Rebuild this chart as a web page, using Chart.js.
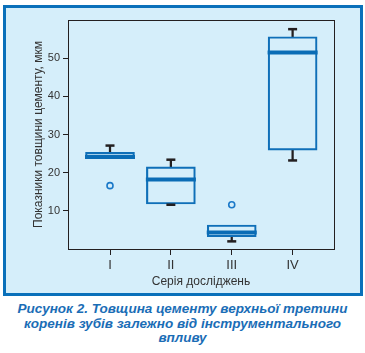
<!DOCTYPE html>
<html lang="uk">
<head>
  <meta charset="UTF-8" />
  <title>Товщина цементу</title>
  <script src="https://cdn.jsdelivr.net/npm/chart.js"></script>
  <style>
    body {
      margin: 0;
      background: #fff;
      font-family: 'Liberation Sans', Arial, sans-serif;
    }

    .panel {
      position: absolute;
      left: 3px;
      top: 5px;
      width: 354px;
      height: 285px;
      border: 3px solid #0a70ba;
      background: #d5eefa;
    }

    #chart {
      position: absolute;
      left: 0;
      top: 0;
    }

    .caption {
      position: absolute;
      left: 0;
      top: 302px;
      width: 365px;
      text-align: center;
      color: #1a6db6;
      font: italic bold 13.5px/14.6px 'Liberation Sans', Arial, sans-serif;
    }
  </style>
</head>
<body>
  <div class="panel"></div>
  <canvas id="chart" width="365" height="296"></canvas>
  <div class="caption">
    Рисунок 2. Товщина цементу верхньої третини<br>
    коренів зубів залежно від інструментального<br>
    впливу
  </div>

  <script>
    const categories = ["I", "II", "III", "IV"];
    const q1 = [23.7, 11.8, 3.2, 25.9];
    const median = [24.1, 18.2, 4.3, 51.5];
    const q3 = [25.3, 21.5, 6.3, 55.6];
    const whiskerLow = [null, 11.6, 2.0, 23.2];
    const whiskerHigh = [27.1, 23.4, null, 57.6];
    const outliers = [[0, 16.6], [2, 11.6]];
    const yTicks = [10, 20, 30, 40, 50];

    const BOX = "#0f6fb8";
    const DARK = "#231f20";

    // рамка навколо області графіка
    const frame = {
      id: "frame",
      beforeDatasetsDraw(chart) {
        const a = chart.chartArea;
        const ctx = chart.ctx;
        ctx.save();
        ctx.strokeStyle = DARK;
        ctx.lineWidth = 1;
        ctx.strokeRect(a.left + 0.5, a.top + 0.5, a.right - a.left, a.bottom - a.top);
        ctx.restore();
      }
    };

    const upper = [];
    const lower = [];
    const caps = [];
    categories.forEach((c, i) => {
      if (whiskerHigh[i] != null) {
        upper.push({ x: i, y: [q3[i], whiskerHigh[i]] });
        caps.push({ x: i, y: whiskerHigh[i] });
      }
      if (whiskerLow[i] != null) {
        lower.push({ x: i, y: [whiskerLow[i], q1[i]] });
        caps.push({ x: i, y: whiskerLow[i] });
      }
    });

    new Chart(document.getElementById("chart"), {
      type: "bar",
      data: {
        datasets: [
          {
            type: "scatter",
            data: median.map((m, i) => ({ x: i, y: m })),
            pointStyle: "line",
            radius: 25,
            borderWidth: 4,
            borderColor: "#0a6cb5"
          },
          {
            type: "scatter",
            data: caps,
            pointStyle: "line",
            radius: 4.5,
            borderWidth: 2.5,
            borderColor: DARK
          },
          {
            type: "scatter",
            data: outliers.map(o => ({ x: o[0], y: o[1] })),
            pointStyle: "circle",
            radius: 3,
            borderWidth: 1.6,
            borderColor: "#1a78c8",
            backgroundColor: "rgba(0,0,0,0)"
          },
          {
            data: categories.map((c, i) => ({ x: i, y: [q1[i], q3[i]] })),
            backgroundColor: "rgba(0,0,0,0)",
            borderColor: BOX,
            borderWidth: 1.5,
            borderSkipped: false,
            barThickness: 49,
            grouped: false
          },
          {
            data: upper,
            backgroundColor: DARK,
            barThickness: 1.6,
            grouped: false
          },
          {
            data: lower,
            backgroundColor: DARK,
            barThickness: 1.6,
            grouped: false
          }
        ]
      },
      options: {
        responsive: false,
        animation: false,
        devicePixelRatio: 1,
        events: [],
        layout: {
          autoPadding: false,
          padding: { top: 20, right: 31, left: 0, bottom: 0 }
        },
        plugins: {
          legend: { display: false },
          tooltip: { enabled: false }
        },
        scales: {
          x: {
            type: "linear",
            min: -0.69,
            max: 3.68,
            offset: false,
            afterBuildTicks: s => { s.ticks = categories.map((c, i) => ({ value: i })); },
            afterFit: s => { s.height = 47; },
            grid: { drawOnChartArea: false, offset: false, tickLength: 6, color: DARK },
            border: { color: DARK },
            ticks: {
              callback: v => categories[v],
              color: "#333",
              font: { size: 13, family: "'Liberation Sans', Arial, sans-serif" },
              padding: 3,
              maxRotation: 0
            },
            title: {
              display: true,
              text: "Серія досліджень",
              color: "#333",
              font: { size: 12, family: "'Liberation Sans', Arial, sans-serif" },
              padding: { top: 0, bottom: 7 }
            }
          },
          y: {
            min: 0,
            max: 60,
            afterBuildTicks: s => { s.ticks = yTicks.map(v => ({ value: v })); },
            afterFit: s => { s.width = 68; },
            grid: { drawOnChartArea: false, tickLength: 5, color: DARK },
            border: { color: DARK },
            ticks: {
              color: "#333",
              font: { size: 11, family: "'Liberation Sans', Arial, sans-serif" },
              padding: 3
            },
            title: {
              display: true,
              text: "Показники товщини цементу, мкм",
              color: "#333",
              font: { size: 12, family: "'Liberation Sans', Arial, sans-serif" },
              padding: { top: 31, bottom: 0 }
            }
          }
        }
      },
      plugins: [frame]
    });
  </script>
</body>
</html>
